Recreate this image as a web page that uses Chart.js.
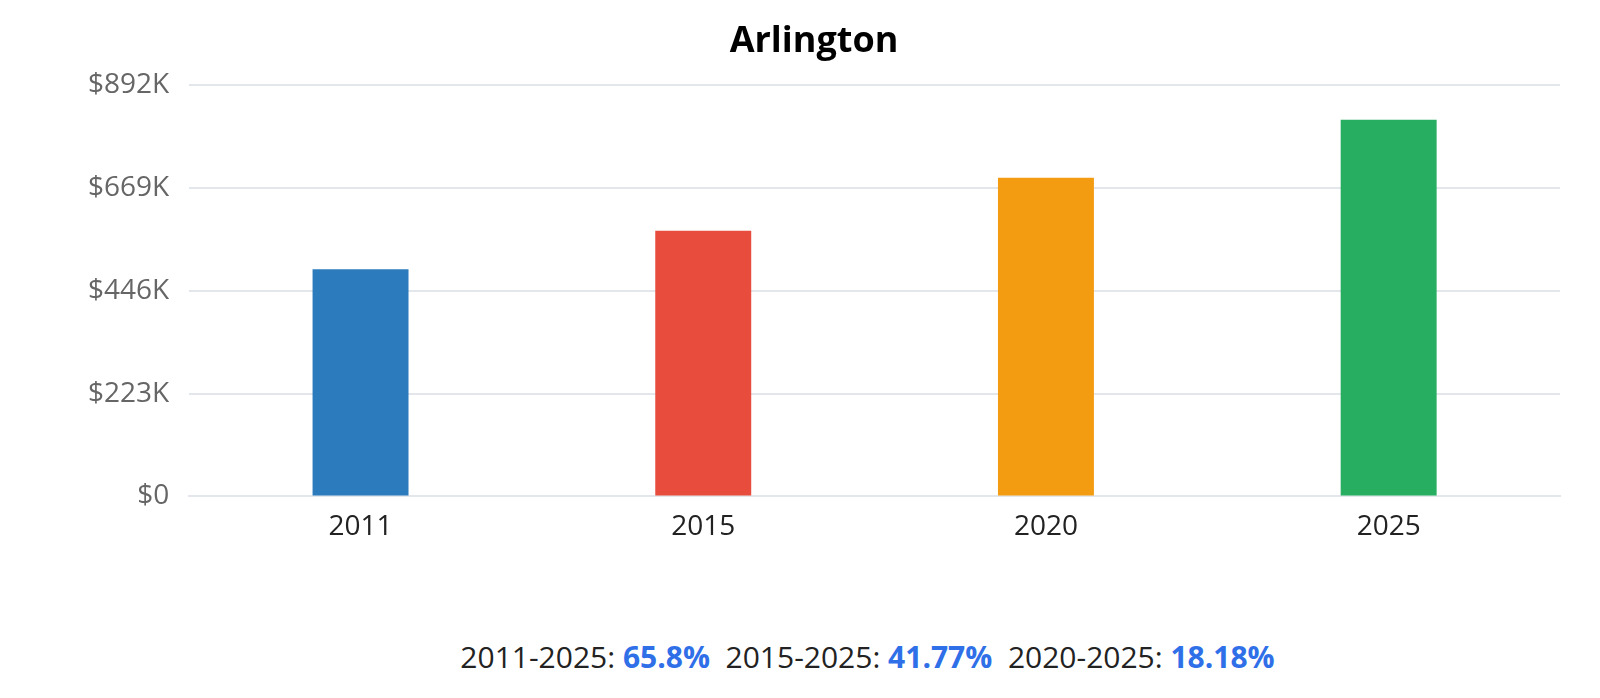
<!DOCTYPE html>
<html><head><meta charset="utf-8">
<script src="https://cdn.jsdelivr.net/npm/chart.js@4"></script>
<style>
html,body{margin:0;padding:0;background:#fff;width:1600px;height:698px;overflow:hidden;font-family:"Open Sans","Noto Sans",sans-serif;}
#wrap{position:absolute;left:0;top:0;width:1600px;height:550px;}
#foot{position:absolute;left:0;width:1600px;top:636px;text-align:center;font-size:30px;color:#222;padding-left:135px;box-sizing:border-box;}
#foot b{color:#2f6fe8;}
</style></head><body>
<div id="wrap"><canvas id="c"></canvas></div>
<div id="foot">2011-2025: <b>65.8%</b>&nbsp; 2015-2025: <b>41.77%</b>&nbsp; 2020-2025: <b>18.18%</b></div>
<script>
const categories = ["2011","2015","2020","2025"];
const values = [492800, 576300, 691300, 817100];
const barColors = ["#2b7bbd","#e74c3c","#f39c12","#27ae60"];
const tickValues = [0,223000,446000,669000,892000];
const F='"Open Sans","Noto Sans",sans-serif';
new Chart(document.getElementById('c'),{
  type:'bar',
  data:{labels:categories,datasets:[{data:values,backgroundColor:barColors,barPercentage:0.56,categoryPercentage:0.5}]},
  options:{
    responsive:true,maintainAspectRatio:false,animation:false,
    layout:{padding:{left:68,right:40,top:14}},
    plugins:{legend:{display:false},tooltip:{enabled:false},
      title:{display:true,text:'Arlington',color:'#000',font:{family:F,size:36,weight:'bold'},padding:{top:6,bottom:22}}},
    scales:{
      x:{grid:{display:false},border:{color:'#e3e6ea',width:2},ticks:{color:'#222',font:{size:28,family:F},padding:6}},
      y:{min:0,max:892000,afterBuildTicks:ax=>{ax.ticks=tickValues.map(v=>({value:v}));},
         grid:{color:'#e3e6ea',lineWidth:2,drawTicks:false},border:{display:false},
         ticks:{color:'#666',padding:20,font:{size:28,family:F},
           callback:v=>v===0?'$0':'$'+Math.round(v/1000)+'K'}}
    }
  }
});
</script></body></html>
